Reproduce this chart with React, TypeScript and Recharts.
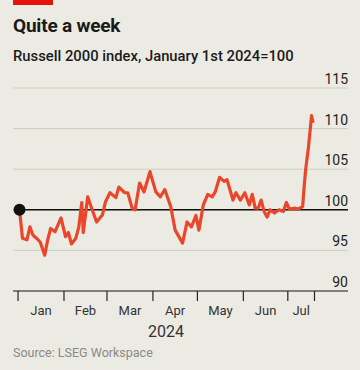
import React from "react";
import {
  LineChart,
  Line,
  XAxis,
  YAxis,
  CartesianGrid,
  ReferenceLine,
  ReferenceDot,
} from "recharts";

// day of year (Jan 1st = 0) and index value
const days = [
  1, 3, 6, 8, 10, 13, 15, 18, 20, 22, 25, 29, 32, 34, 36, 39, 41, 43, 44, 47,
  50, 53, 57, 59, 62, 66, 68, 72, 74, 77, 79, 82, 85, 89, 93, 96, 99, 103, 106,
  111, 114, 117, 120, 122, 125, 128, 131, 133, 136, 139, 141, 145, 147, 150,
  153, 156, 158, 160, 162, 164, 166, 168, 170, 173, 176, 179, 181, 183, 187,
  189, 192, 193, 194, 196, 198, 199,
];
const values = [
  100.0, 96.5, 96.3, 97.9, 96.9, 96.4, 96.0, 94.4, 96.3, 97.7, 97.3, 99.0, 96.7,
  97.2, 95.8, 96.5, 97.9, 100.9, 97.2, 101.6, 100.0, 98.5, 99.4, 101.0, 102.1,
  101.5, 102.8, 102.1, 102.1, 100.2, 100.0, 103.3, 102.2, 104.7, 102.2, 101.6,
  102.5, 100.4, 97.5, 95.9, 98.5, 97.9, 99.3, 97.5, 100.6, 101.9, 101.6, 102.2,
  104.0, 103.5, 103.7, 101.2, 102.1, 101.2, 102.1, 100.6, 101.9, 100.2, 100.2,
  101.2, 99.8, 99.1, 100.0, 99.6, 100.0, 99.8, 100.9, 100.1, 100.2, 100.1,
  100.4, 102.8, 104.9, 107.8, 111.6, 110.7,
];

// month boundaries (tick marks) and month label positions
const monthStarts = [0, 31, 60, 91, 121, 152, 182, 200];
const monthMids = [15.5, 45.5, 75.5, 106, 136.5, 167, 191];
const monthNames = ["Jan", "Feb", "Mar", "Apr", "May", "Jun", "Jul"];
const yTicks = [90, 95, 100, 105, 110, 115];

const data = days.map((d, i) => ({ day: d, value: values[i] }));

const FONT = "Roboto, 'Noto Sans', sans-serif";

const YTick = (props: any) => {
  const { x, y, payload } = props;
  return (
    <text
      x={x}
      y={y - 4}
      textAnchor="end"
      fontSize={14}
      fill="#222"
      fontFamily={FONT}
    >
      {payload.value}
    </text>
  );
};

export default function App() {
  return (
    <div
      style={{
        position: "absolute",
        top: 0,
        left: 0,
        width: 360,
        height: 370,
        background: "#ecebe3",
        fontFamily: FONT,
        overflow: "hidden",
      }}
    >
      <div
        style={{
          position: "absolute",
          left: 13,
          top: 0,
          width: 40,
          height: 5,
          background: "#e3120b",
        }}
      />
      <div
        style={{
          position: "absolute",
          left: 13,
          top: 14,
          fontSize: 19,
          fontWeight: 700,
          color: "#1a1a1a",
          letterSpacing: -0.2,
        }}
      >
        Quite a week
      </div>
      <div
        style={{
          position: "absolute",
          left: 13,
          top: 47,
          fontSize: 14.8,
          fontWeight: 500,
          color: "#1a1a1a",
        }}
      >
        Russell 2000 index, January 1st 2024=100
      </div>

      <div style={{ position: "absolute", top: 0, left: 0 }}>
        <LineChart
          width={360}
          height={370}
          data={data}
          margin={{ top: 88, right: 12, left: 13, bottom: 37 }}
        >
          <CartesianGrid vertical={false} stroke="#cfcdc4" strokeWidth={1} />
          <XAxis
            xAxisId="a"
            dataKey="day"
            type="number"
            domain={[-3.4, 222.6]}
            ticks={monthStarts}
            interval={0}
            tickFormatter={() => ""}
            tickSize={10}
            height={12}
            stroke="#222"
            strokeWidth={1.2}
          />
          <XAxis
            xAxisId="b"
            dataKey="day"
            type="number"
            domain={[-3.4, 222.6]}
            ticks={monthMids}
            interval={0}
            tickFormatter={(v: number) => monthNames[monthMids.indexOf(v)]}
            axisLine={false}
            tickLine={false}
            tickSize={0}
            tickMargin={3}
            height={30}
            tick={{ fontSize: 13, fill: "#333", fontFamily: FONT }}
          />
          <YAxis
            orientation="right"
            domain={[90, 115]}
            ticks={yTicks}
            interval={0}
            width={1}
            mirror
            axisLine={false}
            tickLine={false}
            tickSize={0}
            tickMargin={0}
            tick={<YTick />}
          />
          <ReferenceLine
            xAxisId="a"
            segment={[
              { x: days[0], y: 100 },
              { x: 222.6, y: 100 },
            ]}
            stroke="#111"
            strokeWidth={1.5}
          />
          <Line
            xAxisId="a"
            dataKey="value"
            type="linear"
            stroke="#e9462c"
            strokeWidth={3.2}
            strokeLinejoin="round"
            dot={false}
            isAnimationActive={false}
          />
          <ReferenceDot
            xAxisId="a"
            x={days[0]}
            y={values[0]}
            r={6}
            fill="#111"
            stroke="none"
          />
        </LineChart>
      </div>

      <div
        style={{
          position: "absolute",
          left: 166,
          top: 322,
          transform: "translateX(-50%)",
          fontSize: 16,
          color: "#333",
        }}
      >
        2024
      </div>
      <div
        style={{
          position: "absolute",
          left: 13,
          top: 345,
          fontSize: 12.5,
          color: "#8a8984",
        }}
      >
        Source: LSEG Workspace
      </div>
    </div>
  );
}
